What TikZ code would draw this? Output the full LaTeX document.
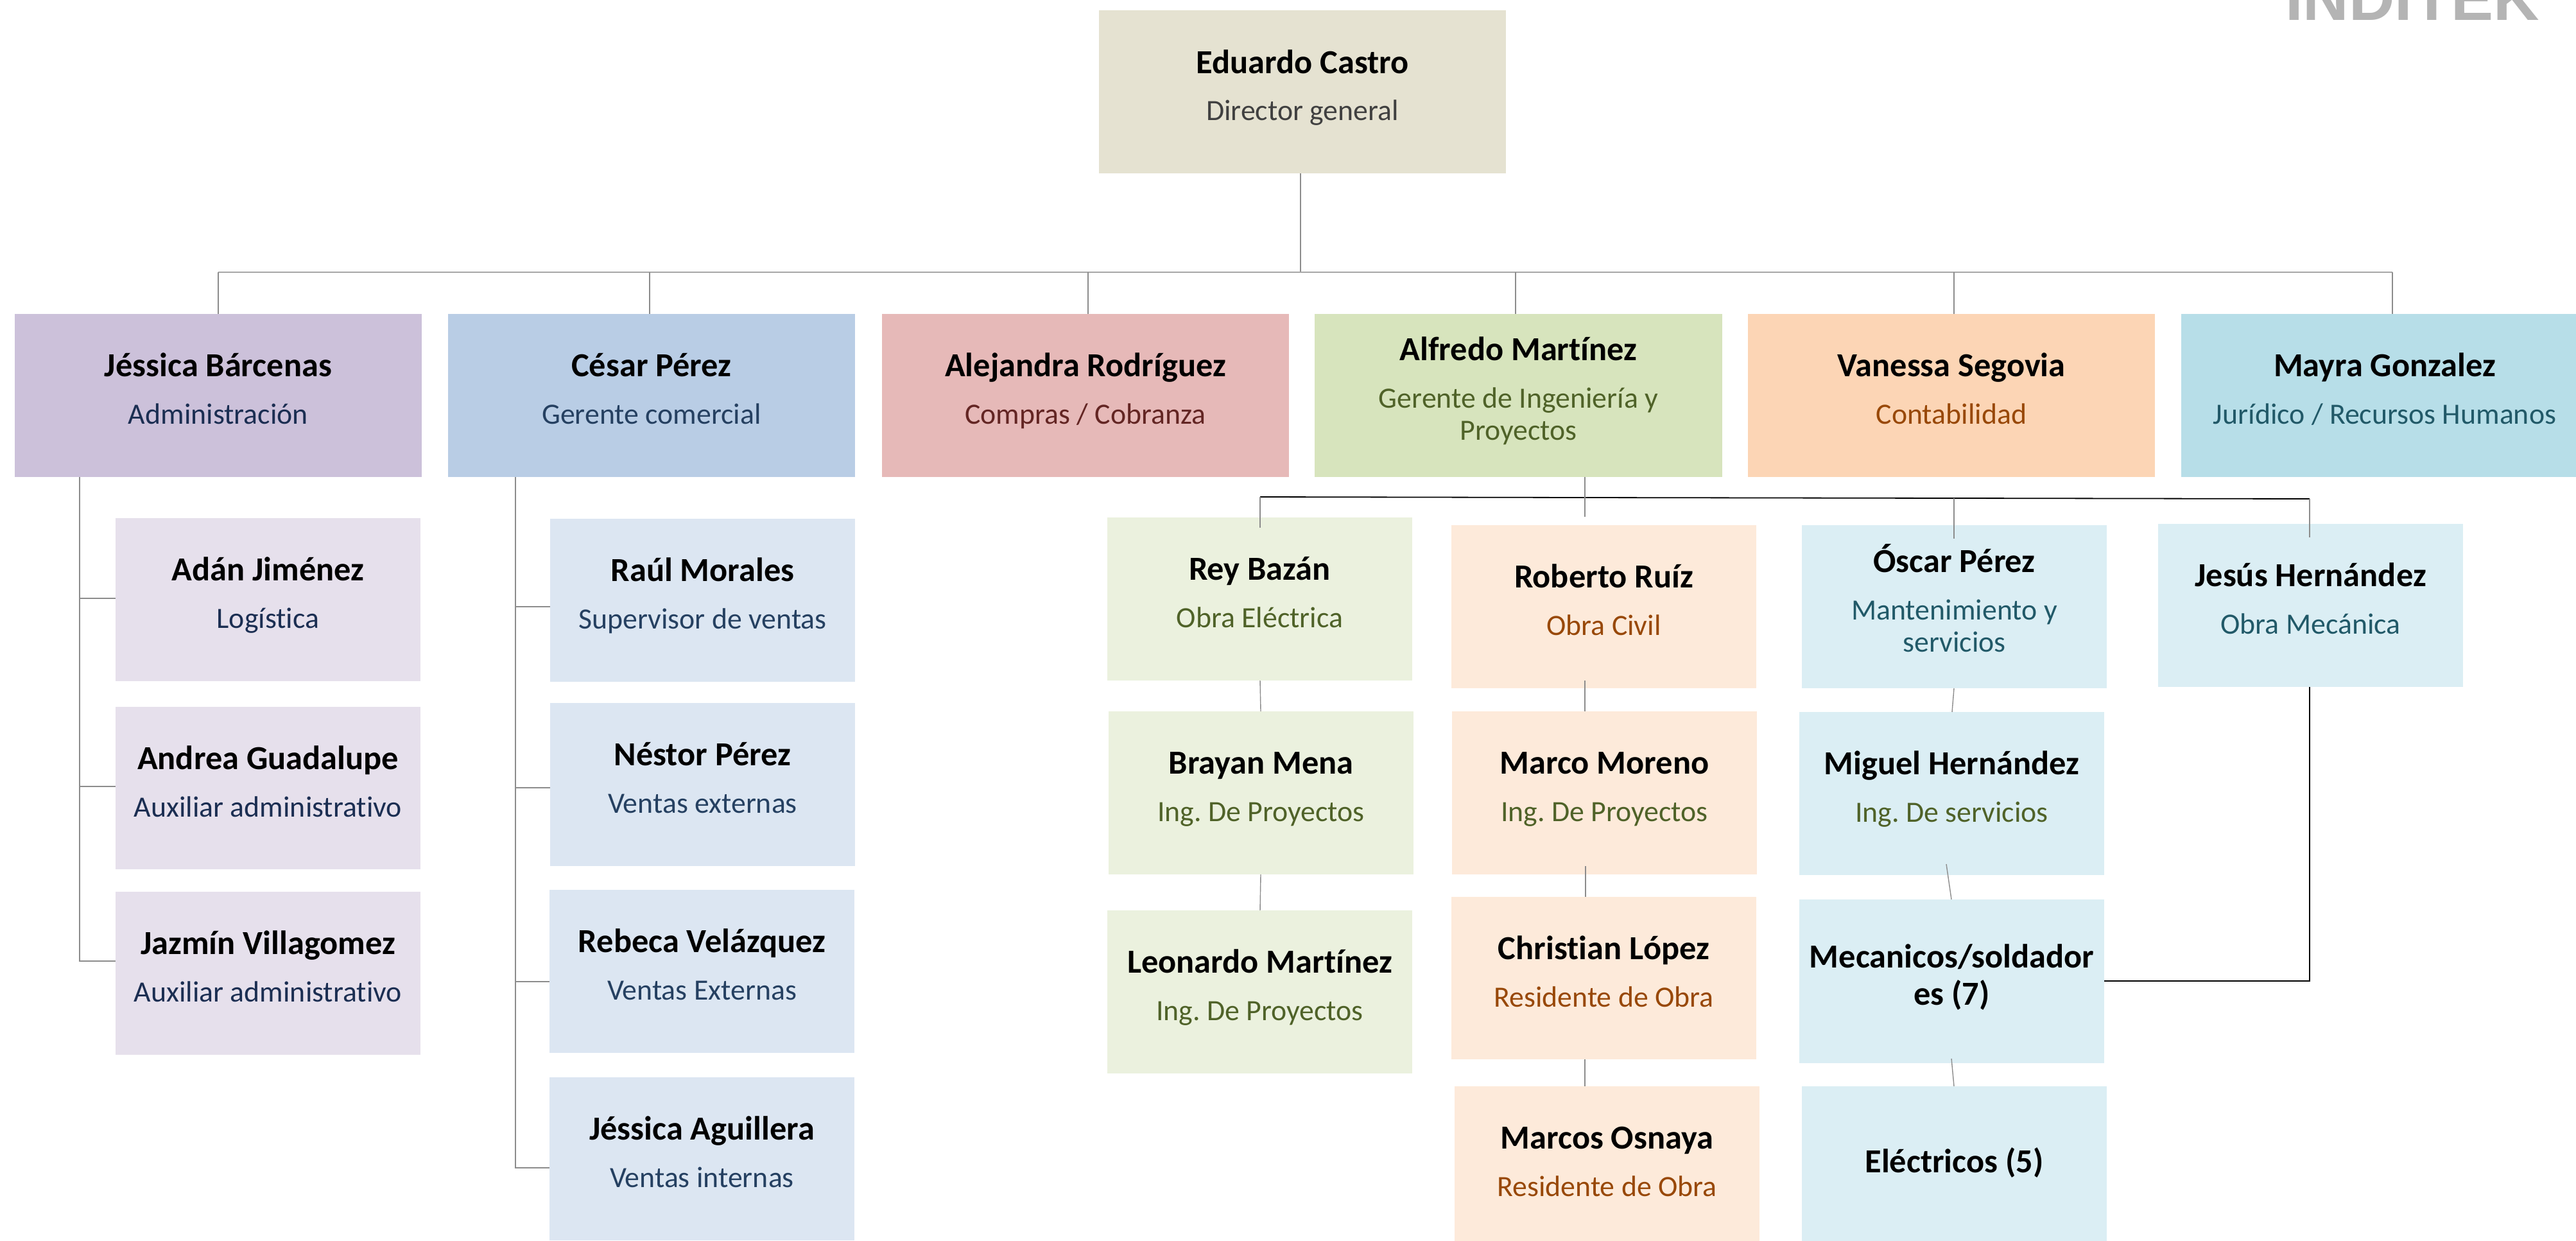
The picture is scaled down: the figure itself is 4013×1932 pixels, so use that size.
\documentclass[tikz,border=0pt]{standalone}
\usepackage{fontspec}
\setmainfont[Ligatures=NoCommon]{Carlito}
\newfontfamily\logofont{Liberation Sans}
\definecolor{cTop}{HTML}{E5E2D1}
\definecolor{cPur}{HTML}{CCC1DA}
\definecolor{cBlu}{HTML}{B9CDE5}
\definecolor{cRed}{HTML}{E6B9B8}
\definecolor{cGrn}{HTML}{D7E4BD}
\definecolor{cOra}{HTML}{FCD5B5}
\definecolor{cTea}{HTML}{B7DEE8}
\definecolor{lPur}{HTML}{E6E0EC}
\definecolor{lBlu}{HTML}{DCE6F2}
\definecolor{lGrn}{HTML}{EBF1DE}
\definecolor{lOra}{HTML}{FDEADA}
\definecolor{lTea}{HTML}{DBEEF4}
\definecolor{tGry}{HTML}{404040}
\definecolor{tPur}{HTML}{1B2E52}
\definecolor{tBlu}{HTML}{254061}
\definecolor{tRed}{HTML}{632523}
\definecolor{tGrn}{HTML}{4F6228}
\definecolor{tOra}{HTML}{984807}
\definecolor{tTea}{HTML}{215968}
\definecolor{lineG}{HTML}{8C8C8C}
\definecolor{busG}{HTML}{A6A6A6}
\definecolor{logoG}{HTML}{B4B4B4}
\newlength{\boxW}\newlength{\boxH}
\newcommand{\persona}[1]{{\fontsize{26.2}{29}\selectfont\bfseries #1\par}}
\newcommand{\cargo}[2]{{\vspace{12pt}\fontsize{22.9}{25}\selectfont\color{#1}#2\par}}
% name, x1, y1, x2, y2, fill, baseline offset (px), content
\newcommand{\orgnode}[8]{%
  \pgfmathsetlength{\boxW}{(#4-#2)*0.5}%
  \pgfmathsetlength{\boxH}{(#5-#3)*0.5}%
  \node[orgbox,fill=#6,minimum width=\boxW,minimum height=\boxH] (#1) at ({(#2+#4)/2},{(#3+#5)/2})
    {\parbox[c][\boxH][t]{\boxW}{\centering\frenchspacing\rule{0pt}{\dimexpr #7pt/2\relax}#8}};}
\tikzset{
  orgbox/.style={rectangle,draw=none,inner sep=0pt,outer sep=0pt},
  conn/.style={draw=lineG,line width=0.7pt},
  busline/.style={draw=busG,line width=1.3pt},
  blackline/.style={draw=black,line width=0.9pt},
}
\begin{document}
\begin{tikzpicture}[x=0.5pt,y=-0.5pt]
\useasboundingbox (0,0) rectangle (4013,1932);
\clip (0,0) rectangle (4013,1932);
\node[anchor=base west,inner sep=0pt,text=logoG] (logo) at (3560,32) {\logofont\fontsize{49.5}{50}\selectfont\bfseries INDITEK};
% top
\orgnode{eduardo}{1712}{16}{2346}{270}{cTop}{98}{\persona{Eduardo Castro}\cargo{tGry}{Director general}}
% level 2
\orgnode{jessica}{23}{489}{657}{743}{cPur}{97}{\persona{Jéssica Bárcenas}\cargo{tPur}{Administración}}
\orgnode{cesar}{698}{489}{1332}{743}{cBlu}{97}{\persona{César Pérez}\cargo{tBlu}{Gerente comercial}}
\orgnode{alejandra}{1374}{489}{2008}{743}{cRed}{97}{\persona{Alejandra Rodríguez}\cargo{tRed}{Compras / Cobranza}}
\orgnode{alfredo}{2048}{489}{2683}{743}{cGrn}{72}{\persona{Alfredo Martínez}\cargo{tGrn}{Gerente de Ingeniería y\\Proyectos}}
\orgnode{vanessa}{2723}{489}{3357}{743}{cOra}{97}{\persona{Vanessa Segovia}\cargo{tOra}{Contabilidad}}
\orgnode{mayra}{3398}{489}{4032}{743}{cTea}{97}{\persona{Mayra Gonzalez}\cargo{tTea}{Jurídico / Recursos Humanos}}
% Administration
\orgnode{adan}{180}{807}{655}{1061}{lPur}{97}{\persona{Adán Jiménez}\cargo{tPur}{Logística}}
\orgnode{andrea}{180}{1101}{655}{1354}{lPur}{97}{\persona{Andrea Guadalupe}\cargo{tPur}{Auxiliar administrativo}}
\orgnode{jazmin}{180}{1389}{655}{1643}{lPur}{97}{\persona{Jazmín Villagomez}\cargo{tPur}{Auxiliar administrativo}}
% Sales
\orgnode{raul}{857}{808}{1332}{1062}{lBlu}{97}{\persona{Raúl Morales}\cargo{tBlu}{Supervisor de ventas}}
\orgnode{nestor}{857}{1095}{1332}{1349}{lBlu}{97}{\persona{Néstor Pérez}\cargo{tBlu}{Ventas externas}}
\orgnode{rebeca}{856}{1386}{1331}{1640}{lBlu}{97}{\persona{Rebeca Velázquez}\cargo{tBlu}{Ventas Externas}}
\orgnode{jaguillera}{856}{1678}{1331}{1932}{lBlu}{97}{\persona{Jéssica Aguillera}\cargo{tBlu}{Ventas internas}}
% Engineering col 1
\orgnode{rey}{1725}{806}{2200}{1060}{lGrn}{97}{\persona{Rey Bazán}\cargo{tGrn}{Obra Eléctrica}}
\orgnode{brayan}{1727}{1108}{2202}{1362}{lGrn}{97}{\persona{Brayan Mena}\cargo{tGrn}{Ing. De Proyectos}}
\orgnode{leonardo}{1725}{1418}{2200}{1672}{lGrn}{97}{\persona{Leonardo Martínez}\cargo{tGrn}{Ing. De Proyectos}}
% col 2
\orgnode{roberto}{2261}{818}{2736}{1072}{lOra}{97}{\persona{Roberto Ruíz}\cargo{tOra}{Obra Civil}}
\orgnode{marco}{2262}{1108}{2737}{1362}{lOra}{97}{\persona{Marco Moreno}\cargo{tGrn}{Ing. De Proyectos}}
\orgnode{christian}{2261}{1397}{2736}{1650}{lOra}{97}{\persona{Christian López}\cargo{tOra}{Residente de Obra}}
\orgnode{marcos}{2266}{1692}{2741}{1946}{lOra}{97}{\persona{Marcos Osnaya}\cargo{tOra}{Residente de Obra}}
% col 3
\orgnode{oscar}{2807}{818}{3282}{1072}{lTea}{73}{\persona{Óscar Pérez}\cargo{tTea}{Mantenimiento y\\servicios}}
\orgnode{miguel}{2803}{1109}{3278}{1363}{lTea}{97}{\persona{Miguel Hernández}\cargo{tGrn}{Ing. De servicios}}
\orgnode{mecanicos}{2803}{1401}{3278}{1656}{lTea}{106}{\persona{Mecanicos/soldador\\es (7)}}
\orgnode{electricos}{2807}{1692}{3282}{1946}{lTea}{134}{\persona{Eléctricos (5)}}
% col 4
\orgnode{jesus}{3362}{816}{3837}{1070}{lTea}{97}{\persona{Jesús Hernández}\cargo{tTea}{Obra Mecánica}}
% bus coordinates
\coordinate (busE) at (2026,424);
\coordinate (busL) at (340,424);
\coordinate (busR) at (3727,424);
\coordinate (dB) at (1012,424);
\coordinate (dC) at (1695,424);
\coordinate (dD) at (2361,424);
\coordinate (dF) at (3044,424);
\draw[conn] (eduardo.south -| busE) -- (busE);
\draw[busline] (busL) -- (busR);
\draw[conn] (busL) -- (busL |- jessica.north);
\draw[conn] (dB) -- (dB |- cesar.north);
\draw[conn] (dC) -- (dC |- alejandra.north);
\draw[conn] (dD) -- (dD |- alfredo.north);
\draw[conn] (dF) -- (dF |- vanessa.north);
\draw[conn] (busR) -- (busR |- mayra.north);
% administration spine
\coordinate (spA) at (124,743);
\coordinate (bAdan) at (124,932);
\coordinate (bAndrea) at (124,1225);
\coordinate (bJazmin) at (124,1497);
\draw[conn] (spA) -- (bJazmin) -- (jazmin.west |- bJazmin);
\draw[conn] (bAdan) -- (adan.west |- bAdan);
\draw[conn] (bAndrea) -- (andrea.west |- bAndrea);
% sales spine
\coordinate (spB) at (803,743);
\coordinate (bRaul) at (803,945);
\coordinate (bNestor) at (803,1227);
\coordinate (bRebeca) at (803,1529);
\coordinate (bJess) at (803,1819);
\draw[conn] (spB) -- (bJess) -- (jaguillera.west |- bJess);
\draw[conn] (bRaul) -- (raul.west |- bRaul);
\draw[conn] (bNestor) -- (nestor.west |- bNestor);
\draw[conn] (bRebeca) -- (rebeca.west |- bRebeca);
% engineering bus
\coordinate (eA) at (1963,774);
\coordinate (eB) at (2469,775);
\coordinate (eC) at (3044,776);
\coordinate (eD) at (3598,777);
\coordinate (reyIn) at (1963,822);
\coordinate (robIn) at (2469,805);
\coordinate (alfOut) at (2469,743);
\coordinate (oscIn) at (3044,839);
\coordinate (jesIn) at (3598,837);
\draw[blackline] (eA) -- (eB) -- (eC) -- (eD);
\draw[conn] (alfOut) -- (robIn);
\draw[conn] (eA) -- (reyIn);
\draw[conn] (eC) -- (oscIn);
\draw[conn] (eD) -- (jesIn);
% col 1
\coordinate (r1) at (1963,1060);
\coordinate (b1) at (1964,1108);
\coordinate (b2) at (1964,1362);
\coordinate (l1) at (1963,1418);
\draw[conn] (r1) -- (b1);
\draw[conn] (b2) -- (l1);
% col 2
\coordinate (ro1) at (2469,1060);
\coordinate (ma1) at (2469,1108);
\coordinate (ma2) at (2470,1349);
\coordinate (ch1) at (2470,1397);
\coordinate (ch2) at (2469,1650);
\coordinate (mo1) at (2469,1692);
\draw[conn] (ro1) -- (ma1);
\draw[conn] (ma2) -- (ch1);
\draw[conn] (ch2) -- (mo1);
% col 3
\coordinate (os1) at (3044,1072);
\coordinate (mi1) at (3041,1109);
\coordinate (mi2) at (3032,1346);
\coordinate (me1) at (3040,1401);
\coordinate (me2) at (3040,1649);
\coordinate (el1) at (3044,1692);
\draw[conn] (os1) -- (mi1);
\draw[conn] (mi2) -- (me1);
\draw[conn] (me2) -- (el1);
% Jesus to mecanicos
\coordinate (jm) at (3598,1528);
\draw[blackline] (eD |- jesus.south) -- (jm) -- (mecanicos.east |- jm);
\end{tikzpicture}
\end{document}
